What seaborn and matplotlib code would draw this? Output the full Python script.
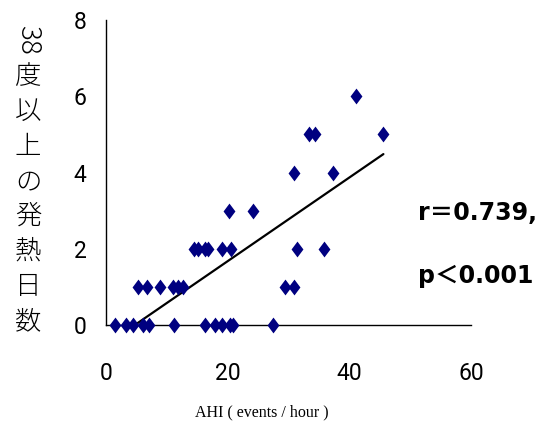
import numpy as np
import pandas as pd
import matplotlib
matplotlib.use("Agg")
import matplotlib.pyplot as plt
from matplotlib.path import Path
import seaborn as sns

# data
ahi = [1.4, 3.3, 4.4, 6.1, 7.1, 11.1, 16.3, 17.9, 19.0, 20.4, 20.9, 27.4,
       5.3, 6.7, 8.9, 11.0, 11.9, 12.6, 29.4, 30.9,
       14.5, 15.2, 16.2, 16.8, 19.1, 20.5, 31.4, 35.8,
       20.2, 24.2,
       30.9, 37.3,
       33.3, 34.3, 45.6,
       41.1]
fever_days = [0] * 12 + [1] * 8 + [2] * 8 + [3] * 2 + [4] * 2 + [5] * 3 + [6]
x_ticks = [0, 20, 40, 60]
y_ticks = [0, 2, 4, 6, 8]
ylabel_chars = ["度", "以", "上", "の", "発", "熱", "日", "数"]
r_text = "r＝0.739,"
p_text = "p＜0.001"
x_label = "AHI ( events / hour )"

df = pd.DataFrame({"ahi": ahi, "days": fever_days})

sns.set_style("white")
plt.rcParams["font.family"] = ["DejaVu Sans"]
plt.rcParams["text.color"] = "black"
plt.rcParams["xtick.color"] = "black"
plt.rcParams["ytick.color"] = "black"
plt.rcParams["xtick.labelcolor"] = "black"
plt.rcParams["ytick.labelcolor"] = "black"

fig = plt.figure(figsize=(5.52, 4.32), dpi=100)
ax = fig.add_axes([106 / 552, 1 - 325 / 432, (471 - 106) / 552, (325 - 20) / 432])

diamond = Path([(0, 1), (0.75, 0), (0, -1), (-0.75, 0), (0, 1)],
               [Path.MOVETO, Path.LINETO, Path.LINETO, Path.LINETO, Path.CLOSEPOLY])

# trend line (least squares)
slope, intercept = np.polyfit(df["ahi"], df["days"], 1)
xs = np.array([min(ahi), max(ahi)])
ax.plot(xs, slope * xs + intercept, color="black", lw=1.6, zorder=2)

sns.scatterplot(data=df, x="ahi", y="days", ax=ax, marker=diamond, s=130,
                color="#000080", edgecolor="#000080", linewidth=0, zorder=3,
                clip_on=False, legend=False)

ax.set_xlim(0, 60)
ax.set_ylim(0, 8)
ax.set_xticks(x_ticks)
ax.set_yticks(y_ticks)
ax.set_xlabel("")
ax.set_ylabel("")
for s in ["top", "right"]:
    ax.spines[s].set_visible(False)
for s in ["left", "bottom"]:
    ax.spines[s].set_color("black")
    ax.spines[s].set_linewidth(1.0)
ax.tick_params(axis="both", direction="in", length=5, width=1, color="black",
               labelcolor="black")
ax.tick_params(axis="x", pad=27)
ax.tick_params(axis="y", pad=14)
for lab in ax.get_xticklabels() + ax.get_yticklabels():
    lab.set_family(["Roboto", "DejaVu Sans"])
    lab.set_fontsize(16.5)
    lab.set_fontweight("normal")

fig.text(262 / 552, 1 - 412 / 432, x_label, family=["Liberation Serif"],
         fontsize=11.5, ha="center", va="center", color="black")

# vertical y label
cjk = ["Noto Sans CJK JP", "DejaVu Sans"]
fig.text(28 / 552, 1 - 40 / 432, "38", family=cjk, fontsize=20, rotation=-90,
         ha="center", va="center", weight="light", color="black")
for i, ch in enumerate(ylabel_chars):
    y = 76 + i * 35.0
    fig.text(28 / 552, 1 - y / 432, ch, family=cjk, fontsize=19,
             ha="center", va="center", weight="light", color="black")

ann = ["DejaVu Sans", "Noto Sans CJK JP"]
fig.text(418 / 552, 1 - 213 / 432, r_text, family=ann, fontsize=17,
         weight="bold", ha="left", va="center", color="black")
fig.text(418 / 552, 1 - 276 / 432, p_text, family=ann, fontsize=17,
         weight="bold", ha="left", va="center", color="black")

fig.savefig("out.png", dpi=100)
